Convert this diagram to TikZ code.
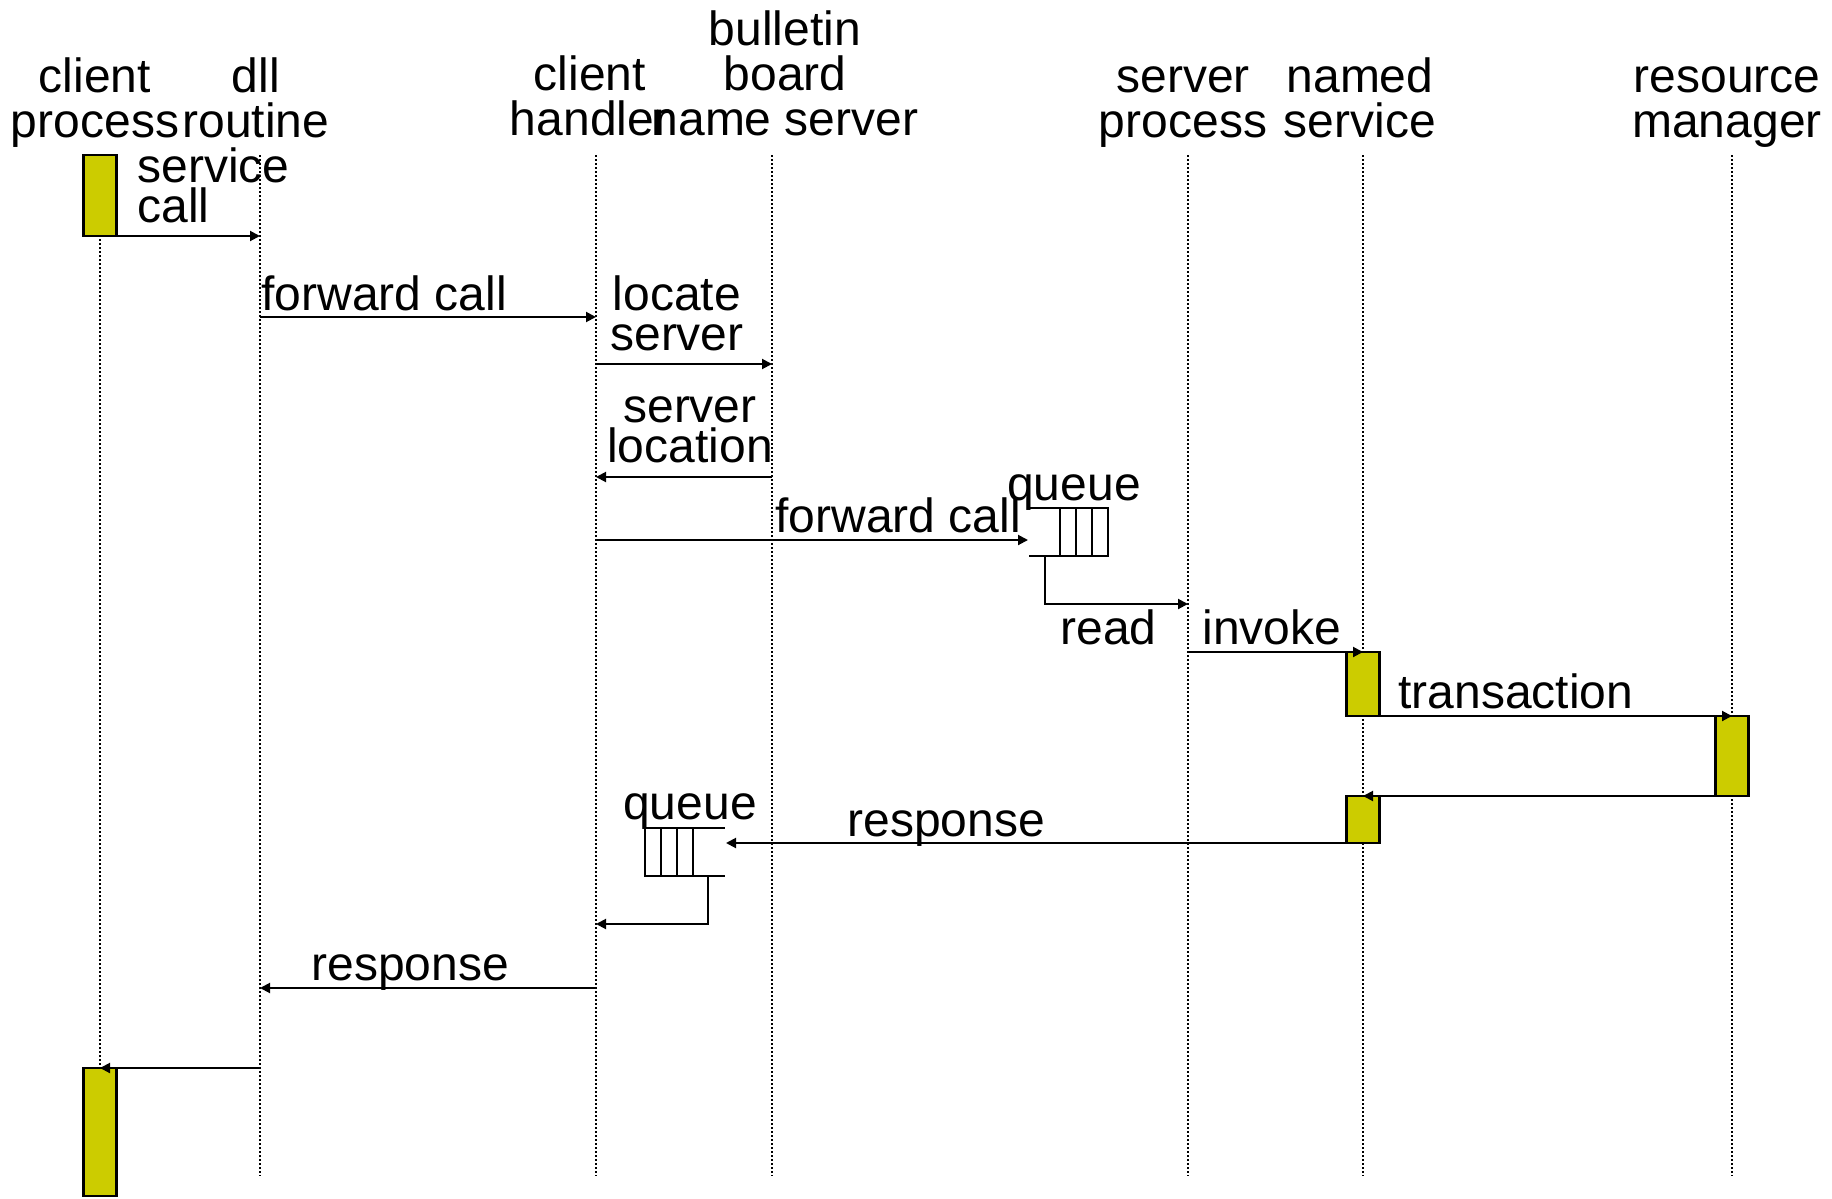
\documentclass[tikz,border=0pt]{standalone}
\usepackage{fontspec}
\setmainfont{Liberation Sans}
\usepackage{tikz}
\usetikzlibrary{arrows.meta}
\definecolor{actyellow}{RGB}{204,204,0}

\begin{document}
\begin{tikzpicture}[x=0.5pt,y=-0.5pt,
  every node/.style={font=\fontsize{24}{22.5}\selectfont,inner sep=0pt},
  head/.style={align=center,anchor=base},
  lbl/.style={align=left,anchor=base west,font=\fontsize{24}{20}\selectfont},
  lblc/.style={align=center,anchor=base,font=\fontsize{24}{20}\selectfont},
  lifeline/.style={densely dotted,line width=1pt},
  msg/.style={line width=1pt,-{Triangle[length=5pt,width=5pt]}},
  act/.style={draw,line width=1.2pt,fill=actyellow,minimum width=16.5pt,
    outer sep=0pt,anchor=north},
  qbox/.style={draw,line width=1pt,minimum width=24pt,minimum height=24pt,
    outer sep=0pt}]
\useasboundingbox (0,0) rectangle (1832,1199);

% lifelines
\foreach \n/\x in {cp/100,dll/260,ch/596,bb/772,sp/1188,ns/1363,rm/1732}{
  \coordinate (\n) at (\x,155);
  \draw[lifeline] (\n) -- (\x,1176);
}
\node[head] (cpH) at (95,137) {client\\process};
\node[head] (dllH) at (256,137) {dll\\routine};
\node[head] (chH) at (590,135) {client\\handler};
\node[head] (bbH) at (785,135) {bulletin\\board\\name server};
\node[head] (spH) at (1183,137) {server\\process};
\node[head] (nsH) at (1360,137) {named\\service};
\node[head] (rmH) at (1727,137) {resource\\manager};

% message levels
\foreach \n/\y in {m1/236,m2/317,m3/364,m4/477,m5/540,m6/604,m7/652,
  m8/716,m9/796,m10/843,m11/924,m12/988,m13/1068}
  \coordinate (\n) at (0,\y);

% activations
\node[act,minimum height=40.5pt] (act1) at (cp) {};
\node[act,minimum height=32pt] (ns1) at (ns |- m7) {};
\node[act,minimum height=40pt] (rmact) at (rm |- m8) {};
\node[act,minimum height=23.5pt] (ns2) at (ns |- m9) {};
\node[act,minimum height=64pt] (act2) at (cp |- m13) {};

% queues
\node[qbox] (q1) at (1084,532) {};
\draw[line width=1pt] ([xshift=8pt]q1.north west) -- ([xshift=8pt]q1.south west);
\draw[line width=1pt] ([xshift=16pt]q1.north west) -- ([xshift=16pt]q1.south west);
\draw[line width=1pt] (q1.north west) -- ++(-31,0);
\draw[line width=1pt] (q1.south west) -- ++(-31,0);
\coordinate (q1in) at ([xshift=-16pt]q1.west |- m5);
\coordinate (q1out) at ([xshift=-7.5pt]q1.south west);

\node[qbox] (q2) at (669,852) {};
\draw[line width=1pt] ([xshift=8pt]q2.north west) -- ([xshift=8pt]q2.south west);
\draw[line width=1pt] ([xshift=16pt]q2.north west) -- ([xshift=16pt]q2.south west);
\draw[line width=1pt] (q2.north east) -- ++(32,0);
\draw[line width=1pt] (q2.south east) -- ++(32,0);
\coordinate (q2in) at ([xshift=16.5pt]q2.east |- m10);
\coordinate (q2out) at ([xshift=7.5pt]q2.south east);

% messages
\draw[msg] (act1.south east) -- (dll |- m1);
\draw[msg] (dll |- m2) -- (ch |- m2);
\draw[msg] (ch |- m3) -- (bb |- m3);
\draw[msg] (bb |- m4) -- (ch |- m4);
\draw[msg] (ch |- m5) -- (q1in);
\draw[msg] (q1out) |- (sp |- m6);
\draw[msg] (sp |- m7) -- (ns |- m7);
\draw[msg] (ns1.south east) -- (rm |- m8);
\draw[msg] (rmact.south west) -- (ns |- m9);
\draw[msg] (ns2.south west) -- (q2in);
\draw[msg] (q2out) |- (ch |- m11);
\draw[msg] (ch |- m12) -- (dll |- m12);
\draw[msg] (dll |- m13) -- (cp |- m13);

% labels
\node[lbl] (svc) at (137,222) {service\\call};
\node[lbl] (fwd1) at (261,310) {forward call};
\node[lblc] (loc) at (677,350) {locate\\server};
\node[lblc] (srvloc) at (690,462) {server\\location};
\node[head] (q1lbl) at (1074,500) {queue};
\node[lbl] (fwd2) at (775,532) {forward call};
\node[lbl] (rd) at (1060,644) {read};
\node[lbl] (inv) at (1202,644) {invoke};
\node[lbl] (trans) at (1398,708) {transaction};
\node[head] (q2lbl) at (690,819) {queue};
\node[lbl] (resp1) at (847,836) {response};
\node[lbl] (resp2) at (311,980) {response};
\end{tikzpicture}
\end{document}
